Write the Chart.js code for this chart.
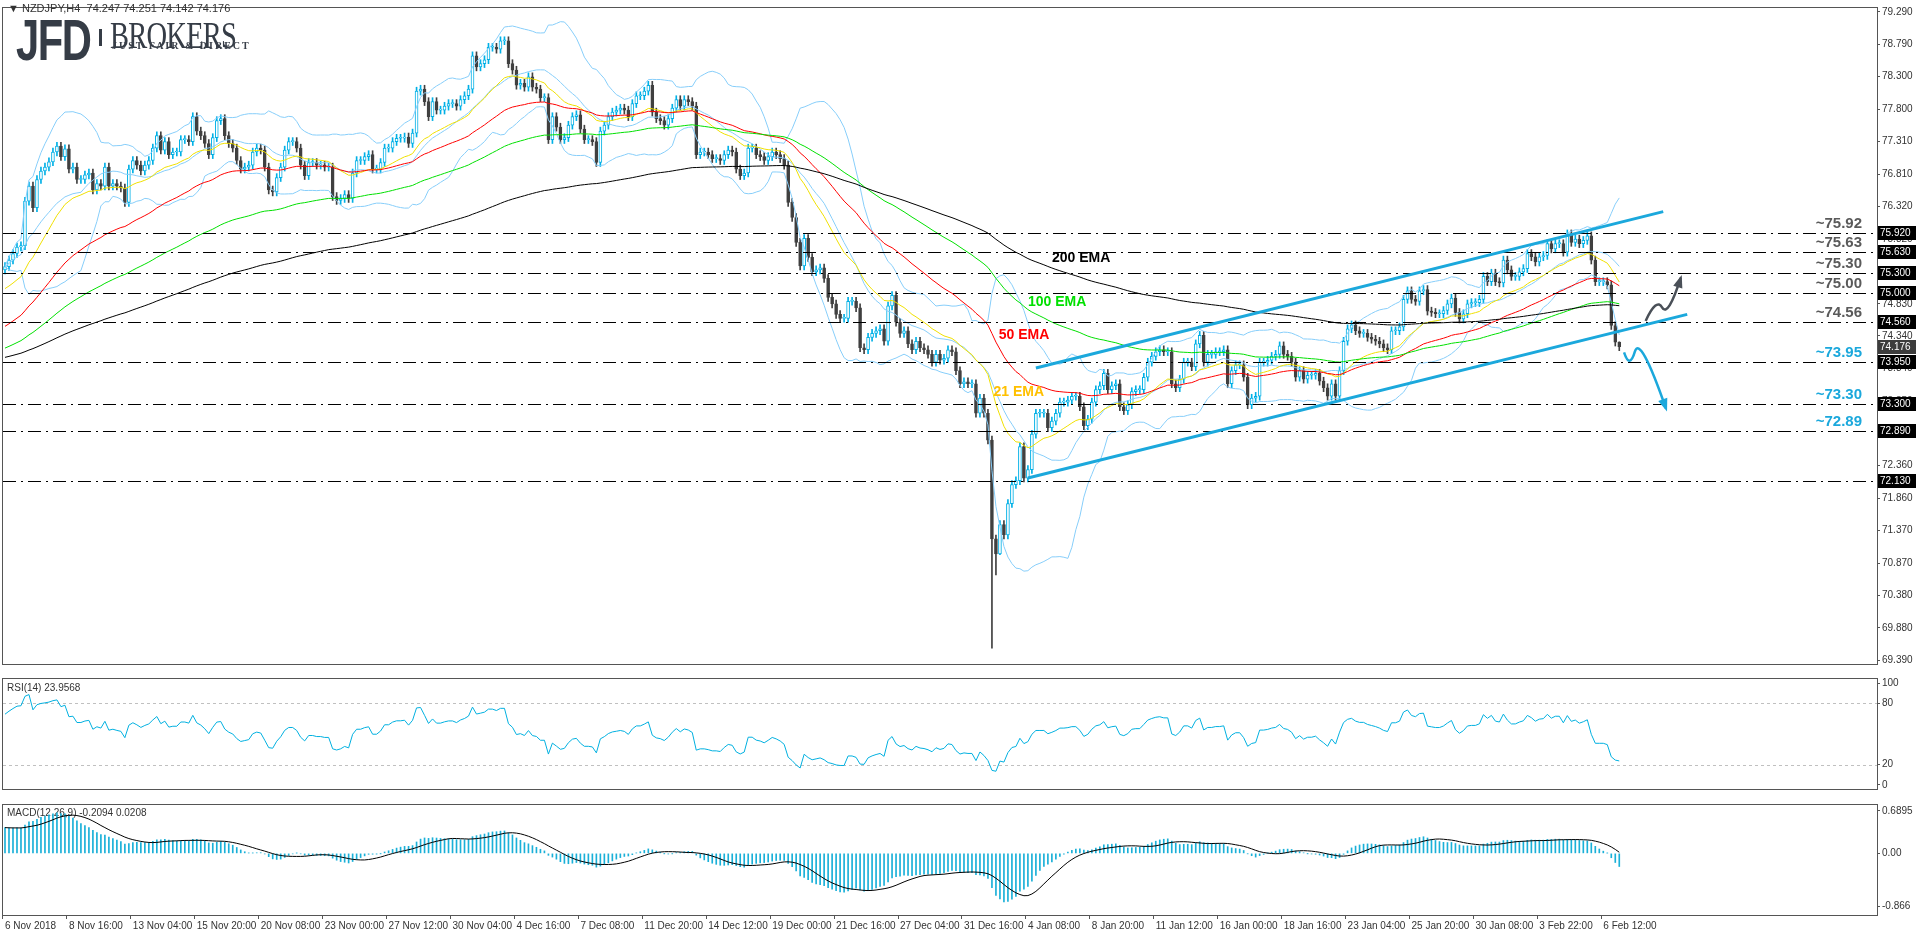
<!DOCTYPE html>
<html><head><meta charset="utf-8">
<script src="https://cdn.jsdelivr.net/npm/chart.js@4.4.1/dist/chart.umd.min.js"></script>
<style>
html,body{margin:0;padding:0;background:#fff;width:1916px;height:936px;overflow:hidden;font-family:"Liberation Sans",sans-serif}
.pane{position:absolute;left:0;width:1916px}
.hdr{position:absolute;left:8px;top:2px;font:11px "Liberation Sans";color:#333;white-space:pre}
.logo{position:absolute;color:#353c46;white-space:nowrap}
</style></head><body>
<div class="pane" style="top:0;height:672px"><canvas id="cMain" width="1916" height="672" style="width:1916px;height:672px"></canvas></div>
<div class="pane" style="top:671px;height:126px"><canvas id="cRsi" width="1916" height="126" style="width:1916px;height:126px"></canvas></div>
<div class="pane" style="top:797px;height:139px"><canvas id="cMacd" width="1916" height="139" style="width:1916px;height:139px"></canvas></div>
<div class="hdr">▼ NZDJPY,H4  74.247 74.251 74.142 74.176</div>
<div class="logo" style="left:16px;top:6px;font:bold 58px 'Liberation Sans';letter-spacing:-2px;transform:scaleX(0.72);transform-origin:left top">JFD</div>
<div class="logo" style="left:99px;top:29px;width:3px;height:17px;background:#353c46"></div>
<div class="logo" style="left:110px;top:13px;font:38px 'Liberation Serif';transform:scaleX(0.75);transform-origin:left top;letter-spacing:-1px">BROKERS</div>
<div class="logo" style="left:112px;top:40px;font:bold 10px 'Liberation Serif';letter-spacing:2px;color:#3a404a">JUST FAIR &amp; DIRECT</div>
<script>
// ---------- DATA ----------
const closesA=[75.40,75.50,75.60,75.70,75.72,76.40,76.63,76.30,76.73,76.86,76.92,77.00,77.15,77.24,77.08,77.20,76.89,76.92,76.73,76.73,76.80,76.83,76.57,76.67,76.63,76.92,76.63,76.67,76.63,76.60,76.38,76.89,77.02,76.95,76.86,76.95,77.02,77.21,77.40,77.18,77.31,77.11,77.15,77.15,77.34,77.34,77.31,77.69,77.47,77.40,77.28,77.11,77.37,77.63,77.66,77.40,77.28,77.21,77.02,76.89,76.92,76.95,77.15,77.21,77.18,76.92,76.57,76.54,76.76,76.92,77.18,77.31,77.31,77.21,76.95,76.79,76.99,76.99,76.95,76.95,76.92,76.92,76.47,76.41,76.44,76.50,76.44,76.83,77.02,77.02,77.08,77.11,76.89,76.89,76.99,77.21,77.21,77.31,77.36,77.36,77.38,77.28,77.44,78.08,78.11,77.92,77.69,77.92,77.79,77.79,77.85,77.89,77.89,77.85,77.95,78.01,78.11,78.62];
const closesB=[78.45,78.50,78.56,78.75,78.75,78.72,78.85,78.85,78.50,78.40,78.17,78.20,78.14,78.30,78.14,78.11,77.98,77.98,77.34,77.69,77.53,77.34,77.37,77.56,77.69,77.72,77.50,77.34,77.34,77.31,76.99,77.47,77.56,77.69,77.76,77.79,77.82,77.79,77.69,77.89,78.01,78.01,78.08,78.17,77.76,77.66,77.63,77.56,77.66,77.82,77.95,77.85,77.95,77.92,77.85,77.11,77.15,77.15,77.11,77.05,77.05,77.02,77.11,77.18,77.15,76.89,76.79,76.83,77.21,77.21,77.11,77.08,77.02,77.08,77.15,77.11,77.05,76.95,76.38,76.15,75.77,75.41,75.83,75.54,75.32,75.35,75.38,75.22,74.93,74.83,74.67,74.61,74.61,74.87,74.87,74.77,74.16,74.13,74.32,74.38,74.42,74.45,74.26,74.80,74.96,74.55,74.38,74.42,74.22,74.13,74.26,74.16,74.13,74.06,73.94,74.06,73.97,74.00,74.13];
const closesC=[74.10,73.81,73.61,73.64,73.61,73.61,73.16,73.39,73.16,72.75,71.24,71.01,71.46,71.30,71.78,72.07,72.13,72.65,72.17,72.30,72.84,73.16,73.16,73.16,72.94,73.04,73.16,73.33,73.33,73.36,73.42,73.42,73.26,72.97,73.07,73.33,73.52,73.58,73.77,73.52,73.58,73.61,73.26,73.20,73.29,73.49,73.52,73.52,73.71,73.94,74.03,74.10,74.13,74.10,74.10,73.61,73.55,73.68,73.94,73.94,73.87,74.22,74.35,73.94,74.06,74.06,74.10,74.10,74.13,73.61,73.81,73.90,73.90,73.71,73.29,73.39,73.42,73.94,73.94,73.97,74.03,74.06,74.19,74.06,74.03,73.94,73.71,73.81,73.68,73.74,73.74,73.77,73.65,73.55,73.42,73.61,73.42,73.81,74.26,74.45,74.51,74.42,74.38,74.38,74.32,74.29,74.26,74.22,74.16,74.13,74.42,74.42,74.48,74.90,75.03,74.90,74.87,75.03];
const closesD=[75.05,74.72,74.70,74.68,74.68,74.73,74.83,74.92,74.70,74.60,74.68,74.83,74.85,74.85,74.90,75.25,75.17,75.30,75.17,75.15,75.50,75.35,75.25,75.25,75.32,75.37,75.60,75.55,75.47,75.55,75.57,75.75,75.67,75.75,75.75,75.62,75.90,75.77,75.82,75.75,75.80,75.87,75.50,75.17,75.17,75.17,75.12,74.50,74.247,74.176];
const firstOpen=75.35;
const lowOverrides={247:69.57,248:70.69,249:71.0};
const highOverrides={404:74.251};
const timeLabels=["6 Nov 2018","8 Nov 16:00","13 Nov 04:00","15 Nov 20:00","20 Nov 08:00","23 Nov 00:00","27 Nov 12:00","30 Nov 04:00","4 Dec 16:00","7 Dec 08:00","11 Dec 20:00","14 Dec 12:00","19 Dec 00:00","21 Dec 16:00","27 Dec 04:00","31 Dec 16:00","4 Jan 08:00","8 Jan 20:00","11 Jan 12:00","16 Jan 00:00","18 Jan 16:00","23 Jan 04:00","25 Jan 20:00","30 Jan 08:00","3 Feb 22:00","6 Feb 12:00"];
const priceTicks=[79.290,78.790,78.300,77.800,77.310,76.810,76.320,75.820,75.330,74.830,74.340,73.840,73.350,72.850,72.360,71.860,71.370,70.870,70.380,69.880,69.390];
const levels=[75.92,75.63,75.30,75.00,74.56,73.95,73.30,72.89,72.13];
const levelTexts=["~75.92","~75.63","~75.30","~75.00","~74.56","~73.95","~73.30","~72.89",null];
const levelTextCyan=[false,false,false,false,false,true,true,true,false];
const lastPrice=74.176;
const channelUpper=[[258,73.85],[415,76.24]];
const channelLower=[[256,72.17],[421,74.67]];
const arrowUp=[[410.6,74.57],[413.3,74.93],[416.2,74.62],[419.4,75.23]];
const arrowDown=[[405.2,74.09],[406.6,73.83],[409.2,74.37],[415.7,73.23]];
const emaLabels=[["200 EMA",262,75.53,"#000000"],["100 EMA",256,74.86,"#00e000"],["50 EMA",248.7,74.36,"#ff0000"],["21 EMA",247.4,73.48,"#ffc000"]];
const rsiTicks=[100,80,20,0];
const macdTicks=[0.6895,0.00,-0.866];
const rsiLabel="RSI(14) 23.9568";
const macdLabel="MACD(12,26,9) -0.2094 0.0208";
const emaSeeds={e21:75.03,e50:74.45,e100:74.13,e200:74.0,e12:75.15,e26:74.72};

// ---------- DERIVED ----------
const closes=[...closesA,...closesB,...closesC,...closesD];
const N=closes.length, SLOTS=469;
const opens=closes.map((c,i)=>i===0?firstOpen:closes[i-1]);
const highs=closes.map((c,i)=>highOverrides[i]!==undefined?highOverrides[i]:Math.max(c,opens[i])+0.06);
const lows=closes.map((c,i)=>lowOverrides[i]!==undefined?lowOverrides[i]:Math.min(c,opens[i])-0.06);
const labels=Array.from({length:SLOTS},(_,i)=>(i%16===0&&i/16<timeLabels.length)?timeLabels[i/16]:'');
function ema(n,seed){const k=2/(n+1);let e=seed;return closes.map(c=>e=e+k*(c-e));}
const e21=ema(21,emaSeeds.e21),e50=ema(50,emaSeeds.e50),e100=ema(100,emaSeeds.e100),e200=ema(200,emaSeeds.e200);
const bbM=[],bbU=[],bbL=[];
closes.forEach((c,i)=>{const w=closes.slice(Math.max(0,i-19),i+1);const m=w.reduce((a,b)=>a+b,0)/w.length;const sd=Math.sqrt(w.reduce((a,b)=>a+(b-m)*(b-m),0)/w.length);bbM.push(m);bbU.push(m+2*sd);bbL.push(m-2*sd);});
const rsi=[];let ag=0.05,al=0.022;
closes.forEach((c,i)=>{if(i>0){const d=c-closes[i-1];ag=(ag*13+Math.max(d,0))/14;al=(al*13+Math.max(-d,0))/14;}rsi.push(100-100/(1+ag/al));});
const m12=ema(12,emaSeeds.e12),m26=ema(26,emaSeeds.e26);
const macd=m12.map((v,i)=>v-m26[i]);
const sig=macd.map((v,i)=>{const w=macd.slice(Math.max(0,i-8),i+1);return w.reduce((a,b)=>a+b,0)/w.length;});

const BULL='#00b0e6',BEAR='#404040';
const isBull=closes.map((c,i)=>c>=opens[i]);
const AXW=39;
const AXFONT={family:'Liberation Sans',size:10};
const frame={id:'frame',afterDraw(ch){const a=ch.chartArea,ctx=ch.ctx;ctx.save();ctx.strokeStyle='#555';ctx.lineWidth=1;ctx.strokeRect(Math.round(a.left)-0.5,Math.round(a.top)-0.5,Math.round(a.right-a.left)+1,Math.round(a.bottom-a.top)+1);ctx.restore();}};
function yAxis(min,max,ticks,fmt){return {type:'linear',position:'right',min,max,afterFit(s){s.width=AXW;},afterBuildTicks(s){s.ticks=ticks.map(v=>({value:v}));},
 ticks:{callback:fmt,font:AXFONT,color:'#333',padding:2,autoSkip:false},
 grid:{drawOnChartArea:false,drawTicks:true,tickLength:3,color:'#555'},border:{display:true,color:'#555'}};}
const xHidden={type:'category',offset:true,display:false,grid:{display:false}};
const lineDs=(data,color,order)=>({type:'line',data,borderColor:color,borderWidth:1,pointRadius:0,fill:false,order,tension:0});
const baseOpts={responsive:false,maintainAspectRatio:false,animation:false,devicePixelRatio:1};

const overlay={id:'overlay',
 afterDatasetsDraw(ch){const ctx=ch.ctx,x=ch.scales.x,y=ch.scales.y,a=ch.chartArea;
  const px=i=>x.getPixelForValue(0)+(x.getPixelForValue(1)-x.getPixelForValue(0))*i;
  ctx.save();
  ctx.strokeStyle='#000';ctx.lineWidth=1;ctx.setLineDash([13,5,2,5]);
  levels.forEach(v=>{const yy=Math.round(y.getPixelForValue(v))+0.5;ctx.beginPath();ctx.moveTo(a.left,yy);ctx.lineTo(a.right,yy);ctx.stroke();});
  ctx.setLineDash([]);
  ctx.strokeStyle='#1ba8dc';ctx.lineWidth=3;
  [channelUpper,channelLower].forEach(l=>{ctx.beginPath();ctx.moveTo(px(l[0][0]),y.getPixelForValue(l[0][1]));ctx.lineTo(px(l[1][0]),y.getPixelForValue(l[1][1]));ctx.stroke();});
  function curve(pts,color){const P=pts.map(p=>[px(p[0]),y.getPixelForValue(p[1])]);ctx.strokeStyle=color;ctx.fillStyle=color;ctx.lineWidth=2.5;ctx.beginPath();ctx.moveTo(P[0][0],P[0][1]);
   for(let i=1;i<P.length-1;i++){const last=i===P.length-2;const mx=last?P[i+1][0]:(P[i][0]+P[i+1][0])/2,my=last?P[i+1][1]:(P[i][1]+P[i+1][1])/2;ctx.quadraticCurveTo(P[i][0],P[i][1],mx,my);}
   ctx.stroke();const t=P[P.length-1],s=P[P.length-2];const ang=Math.atan2(t[1]-s[1],t[0]-s[0]);ctx.beginPath();ctx.moveTo(t[0]+Math.cos(ang)*3,t[1]+Math.sin(ang)*3);
   ctx.lineTo(t[0]-Math.cos(ang-0.45)*11,t[1]-Math.sin(ang-0.45)*11);ctx.lineTo(t[0]-Math.cos(ang+0.45)*11,t[1]-Math.sin(ang+0.45)*11);ctx.closePath();ctx.fill();}
  curve(arrowUp,'#4a5058');curve(arrowDown,'#1ba8dc');
  ctx.font='bold 14px "Liberation Sans"';ctx.textBaseline='middle';ctx.textAlign='left';
  emaLabels.forEach(l=>{ctx.fillStyle=l[3];ctx.fillText(l[0],px(l[1]),y.getPixelForValue(l[2]));});
  ctx.font='bold 15px "Liberation Sans"';ctx.textAlign='right';
  levels.forEach((v,i)=>{if(!levelTexts[i])return;ctx.fillStyle=levelTextCyan[i]?'#1ba8dc':'#5a5a5a';ctx.fillText(levelTexts[i],1862,y.getPixelForValue(v)-9);});
  ctx.restore();},
 afterDraw(ch){const ctx=ch.ctx,y=ch.scales.y,a=ch.chartArea;ctx.save();ctx.font='10px "Liberation Sans"';ctx.textBaseline='middle';ctx.textAlign='left';
  const box=(v,bg)=>{const yy=Math.round(y.getPixelForValue(v));ctx.fillStyle=bg;ctx.fillRect(a.right+1,yy-7,AXW-1,14);ctx.fillStyle='#fff';ctx.fillText(v.toFixed(3),a.right+3,yy+0.5);};
  levels.forEach(v=>box(v,'#000'));box(lastPrice,'#3c3c3c');ctx.restore();}
};

new Chart(document.getElementById('cMain'),{type:'bar',
 data:{labels,datasets:[
  {data:closes.map((c,i)=>[lows[i],highs[i]]),backgroundColor:isBull.map(b=>b?BULL:BEAR),barThickness:1,grouped:false,order:6},
  {data:closes.map((c,i)=>[opens[i],c]),backgroundColor:isBull.map(b=>b?'#ffffff':BEAR),borderColor:isBull.map(b=>b?BULL:BEAR),borderWidth:1,borderSkipped:false,barThickness:3,minBarLength:1,grouped:false,order:5},
  lineDs(bbU,'#87cefa',4),lineDs(bbL,'#87cefa',4),lineDs(bbM,'#87cefa',4),
  lineDs(e200,'#000000',1),lineDs(e100,'#00e000',1),lineDs(e50,'#ff0000',1),lineDs(e21,'#f0e000',1)]},
 options:{...baseOpts,layout:{padding:{left:3,top:2,bottom:2,right:0}},
  plugins:{legend:{display:false},tooltip:{enabled:false}},
  scales:{x:xHidden,y:yAxis(69.33,79.35,priceTicks,v=>v.toFixed(3))}},
 plugins:[frame,overlay]});

const rsiPlug={id:'rsiPlug',beforeDatasetsDraw(ch){const ctx=ch.ctx,y=ch.scales.y,a=ch.chartArea;ctx.save();ctx.strokeStyle='#c0c0c0';ctx.setLineDash([3,3]);
 [80,20].forEach(v=>{const yy=Math.round(y.getPixelForValue(v))+0.5;ctx.beginPath();ctx.moveTo(a.left,yy);ctx.lineTo(a.right,yy);ctx.stroke();});
 ctx.setLineDash([]);ctx.fillStyle='#333';ctx.font='10px "Liberation Sans"';ctx.textBaseline='top';ctx.fillText(rsiLabel,a.left+4,a.top+4);ctx.restore();}};
new Chart(document.getElementById('cRsi'),{type:'line',
 data:{labels,datasets:[{data:rsi,borderColor:'#00b0e0',borderWidth:1,pointRadius:0,tension:0}]},
 options:{...baseOpts,layout:{padding:{left:3,top:2,bottom:1,right:0}},
  plugins:{legend:{display:false},tooltip:{enabled:false}},
  scales:{x:xHidden,y:yAxis(-4,104,rsiTicks,v=>String(v))}},
 plugins:[frame,rsiPlug]});

const macdPlug={id:'macdPlug',beforeDatasetsDraw(ch){const ctx=ch.ctx,a=ch.chartArea;ctx.save();ctx.fillStyle='#333';ctx.font='10px "Liberation Sans"';ctx.textBaseline='top';
 ctx.fillText(macdLabel,a.left+4,a.top+3);ctx.restore();}};
new Chart(document.getElementById('cMacd'),{type:'bar',
 data:{labels,datasets:[
  {type:'line',data:sig,borderColor:'#000',borderWidth:1,pointRadius:0,tension:0,order:0},
  {data:macd,backgroundColor:'#1ab0d8',barThickness:1,order:1}]},
 options:{...baseOpts,layout:{padding:{left:3,top:2,bottom:0,right:0}},
  plugins:{legend:{display:false},tooltip:{enabled:false}},
  scales:{x:{type:'category',offset:true,afterFit(s){s.height=21;},
    ticks:{autoSkip:false,maxRotation:0,minRotation:0,align:'start',padding:1,font:AXFONT,color:'#333',callback(v,i){return labels[i];}},
    grid:{drawOnChartArea:false,drawTicks:true,tickLength:4,color:c=>labels[c.index]?'#555':'rgba(0,0,0,0)'},border:{display:true,color:'#555'}},
   y:yAxis(-1.0,0.785,macdTicks,v=>v===0?'0.00':String(v))}},
 plugins:[frame,macdPlug]});
</script></body></html>
